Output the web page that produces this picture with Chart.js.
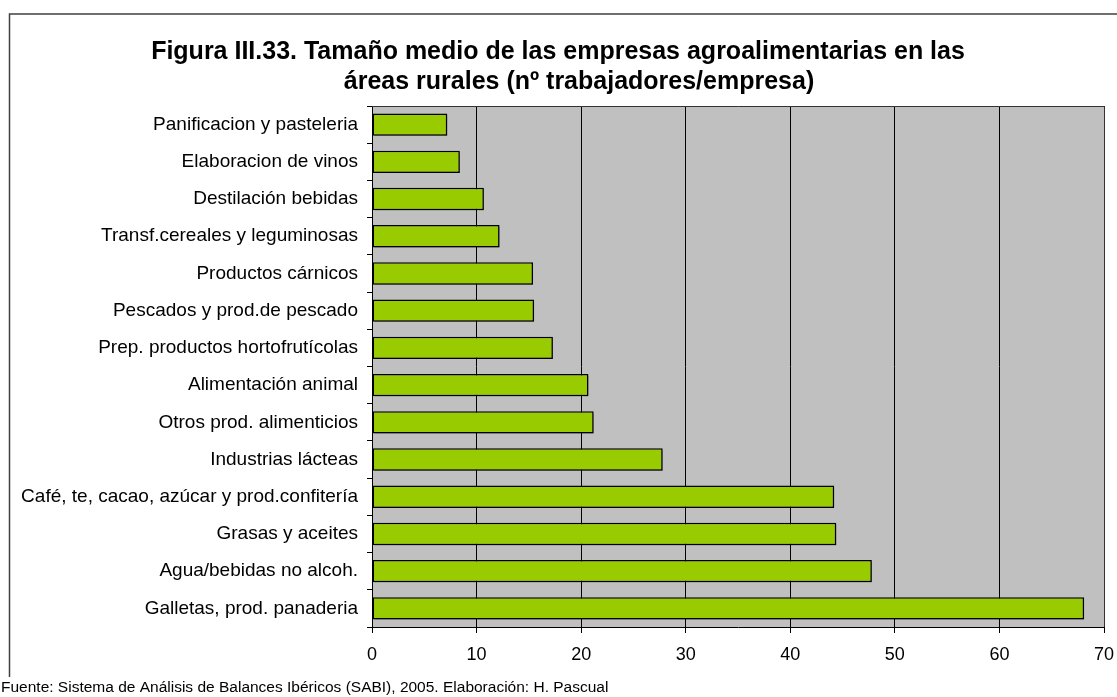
<!DOCTYPE html>
<html>
<head>
<meta charset="utf-8">
<script src="https://cdn.jsdelivr.net/npm/chart.js@4"></script>
<style>
  html, body { margin: 0; padding: 0; background: #fff; }
  #wrap { width: 1117px; height: 697px; position: relative; }
</style>
</head>
<body>
<div id="wrap"><canvas id="sizeChart"></canvas></div>
<script>
const categories = [
    'Panificacion y pasteleria',
    'Elaboracion de vinos',
    'Destilación bebidas',
    'Transf.cereales y leguminosas',
    'Productos cárnicos',
    'Pescados y prod.de pescado',
    'Prep. productos hortofrutícolas',
    'Alimentación animal',
    'Otros prod. alimenticios',
    'Industrias lácteas',
    'Café, te, cacao, azúcar y prod.confitería',
    'Grasas y aceites',
    'Agua/bebidas no alcoh.',
    'Galletas, prod. panaderia'
];
const workersPerFirm = [7.2, 8.4, 10.7, 12.2, 15.4, 15.5, 17.3, 20.7, 21.2, 27.8, 44.2, 44.4, 47.8, 68.1];
const xTicks = [0, 10, 20, 30, 40, 50, 60, 70];

const titleLines = [
    'Figura III.33. Tamaño medio de las empresas agroalimentarias en las',
    'áreas rurales (nº trabajadores/empresa)'
];
const sourceNote = 'Fuente: Sistema de Análisis de Balances Ibéricos (SABI), 2005. Elaboración: H. Pascual';

const FONT = '"Liberation Sans", Arial, sans-serif';

// grey plot background + frame, title, footer
const decorations = {
    id: 'decorations',
    beforeDraw(chart) {
        const { ctx, chartArea: a } = chart;
        ctx.save();
        ctx.fillStyle = '#c0c0c0';
        ctx.fillRect(a.left, a.top, a.right - a.left, a.bottom - a.top);
        ctx.restore();
    },
    beforeDatasetsDraw(chart) {
        const ctx = chart.ctx;
        ctx.save();
        ctx.shadowColor = 'rgba(0,0,0,0.3)';
        ctx.shadowOffsetX = 2;
        ctx.shadowOffsetY = 2;
        ctx.shadowBlur = 0;
    },
    afterDatasetsDraw(chart) {
        chart.ctx.restore();
    },
    afterDraw(chart) {
        const { ctx, chartArea: a } = chart;
        ctx.save();
        // plot frame top / right
        ctx.strokeStyle = '#333';
        ctx.lineWidth = 1;
        ctx.beginPath();
        ctx.moveTo(a.left, a.top + 0.5);
        ctx.lineTo(a.right + 0.5, a.top + 0.5);
        ctx.lineTo(a.right + 0.5, a.bottom);
        ctx.stroke();

        // outer border (left and top visible)
        ctx.strokeStyle = '#404040';
        ctx.lineWidth = 1.5;
        ctx.beginPath();
        ctx.moveTo(9.5, 677);
        ctx.lineTo(9.5, 14);
        ctx.lineTo(1117, 14);
        ctx.stroke();

        // title
        ctx.fillStyle = '#000';
        ctx.font = 'bold 25px ' + FONT;
        ctx.textAlign = 'center';
        ctx.textBaseline = 'middle';
        ctx.fillText(titleLines[0], 558, 52);
        ctx.fillText(titleLines[1], 579, 82);

        // footer
        ctx.font = '15.5px ' + FONT;
        ctx.textAlign = 'left';
        ctx.fillText(sourceNote, 1, 688);
        ctx.restore();
    }
};

new Chart(document.getElementById('sizeChart'), {
    type: 'bar',
    data: {
        labels: categories,
        datasets: [{
            data: workersPerFirm,
            backgroundColor: '#99cc00',
            borderColor: '#000',
            borderWidth: 1.5,
            borderSkipped: false,
            categoryPercentage: 1,
            barPercentage: 0.6
        }]
    },
    options: {
        indexAxis: 'y',
        responsive: true,
        maintainAspectRatio: false,
        animation: false,
        layout: { padding: { top: 106, right: 13, bottom: 30, left: 0 } },
        plugins: {
            legend: { display: false },
            title: { display: false },
            tooltip: { enabled: false }
        },
        scales: {
            x: {
                min: 0,
                max: 70,
                afterBuildTicks(scale) {
                    scale.ticks = xTicks.map(v => ({ value: v }));
                },
                afterFit(scale) {
                    scale.height = 40;
                    scale.paddingLeft = 0;
                    scale.paddingRight = 0;
                },
                grid: { color: '#000', lineWidth: 1, tickLength: 6, tickColor: '#000' },
                border: { color: '#000', width: 1 },
                ticks: { color: '#000', font: { family: FONT, size: 18 }, padding: 11, maxRotation: 0 }
            },
            y: {
                afterFit(scale) {
                    scale.width = 372;
                    scale.paddingTop = 0;
                    scale.paddingBottom = 0;
                },
                grid: { drawOnChartArea: false, offset: true, tickLength: 5, tickColor: '#000' },
                border: { color: '#000', width: 1 },
                ticks: { color: '#000', font: { family: FONT, size: 19 }, padding: 9 }
            }
        }
    },
    plugins: [decorations]
});
</script>
</body>
</html>
